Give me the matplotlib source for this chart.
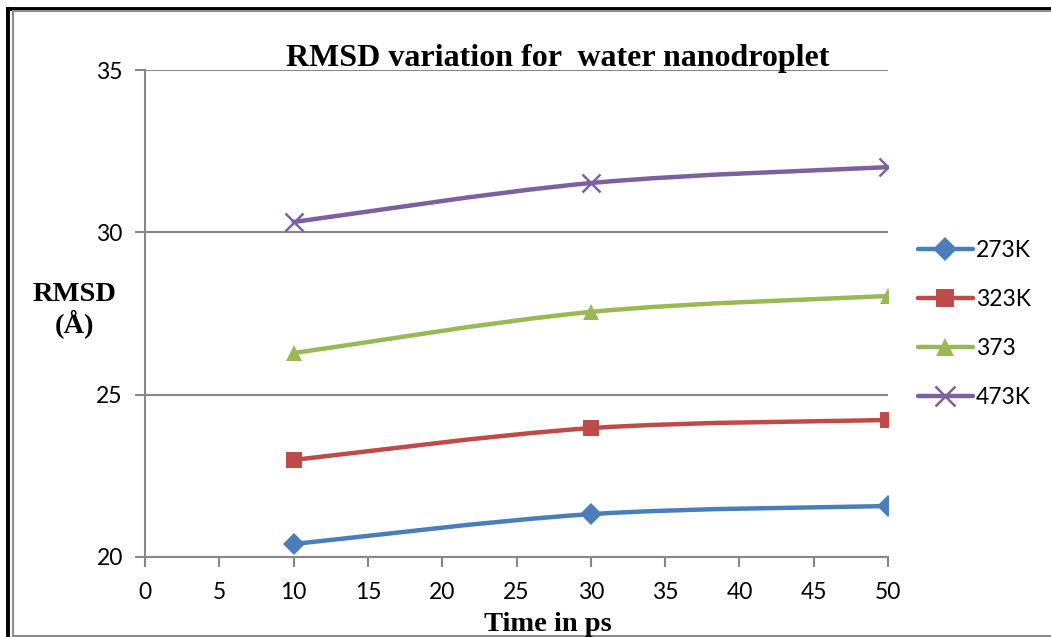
import numpy as np
import matplotlib
matplotlib.use('Agg')
import matplotlib.pyplot as plt
from matplotlib.path import Path
from matplotlib.patches import PathPatch
from matplotlib.lines import Line2D

# data
time_ps = [10, 30, 50]
rmsd_273 = [20.40, 21.32, 21.57]
rmsd_323 = [22.99, 23.97, 24.22]
rmsd_373 = [26.28, 27.55, 28.04]
rmsd_473 = [30.32, 31.52, 32.01]
labels = ['273K', '323K', '373', '473K']

series = [rmsd_273, rmsd_323, rmsd_373, rmsd_473]
colors = ['#4A7EBB', '#BE4B48', '#98B954', '#7D60A0']
markers = ['D', 's', '^', 'x']
msizes = [11, 12, 12, 13]


def smooth_path(x, y, t=1/6):
    """Excel-like smoothed line as cubic bezier through the points."""
    pts = list(zip(x, y))
    verts = [pts[0]]
    codes = [Path.MOVETO]
    n = len(pts)
    for i in range(n - 1):
        p0 = pts[i - 1] if i > 0 else pts[i]
        p1 = pts[i]
        p2 = pts[i + 1]
        p3 = pts[i + 2] if i + 2 < n else pts[i + 1]
        c1 = (p1[0] + (p2[0] - p0[0]) * t, p1[1] + (p2[1] - p0[1]) * t)
        c2 = (p2[0] - (p3[0] - p1[0]) * t, p2[1] - (p3[1] - p1[1]) * t)
        verts += [c1, c2, p2]
        codes += [Path.CURVE4] * 3
    return Path(verts, codes)


fig = plt.figure(figsize=(10.51, 6.37), dpi=100)
ax = fig.add_axes([0.138, 0.1256, 0.707, 0.7644])

for vals, c, m, ms, lab in zip(series, colors, markers, msizes, labels):
    patch = PathPatch(smooth_path(time_ps, vals), facecolor='none', edgecolor=c,
                      lw=3.2, capstyle='round', joinstyle='round', zorder=3)
    ax.add_patch(patch)
    mew = 1.8 if m == 'x' else 0
    ax.plot(time_ps, vals, linestyle='none', marker=m, ms=ms, color=c,
            mec=c, mew=mew, zorder=4)

ax.set_xlim(0, 50)
ax.set_ylim(20, 35)
ax.set_xticks(range(0, 51, 5))
ax.set_yticks([20, 25, 30, 35])
ax.grid(axis='y', color='#878787', lw=1.5)
ax.set_axisbelow(True)
for s in ['top', 'right']:
    ax.spines[s].set_visible(False)
for s in ['left', 'bottom']:
    ax.spines[s].set_color('#878787')
    ax.spines[s].set_linewidth(1.5)
ax.tick_params(axis='both', color='#878787', width=1.5, length=7,
               labelsize=16.5, pad=11)
ax.tick_params(axis='y', pad=9)
for lbl in ax.get_xticklabels() + ax.get_yticklabels():
    lbl.set_fontfamily('Lato')

fig.text(0.531, 0.908, 'RMSD variation for  water nanodroplet', ha='center',
         va='center', fontsize=23, fontweight='bold', family='Liberation Serif')
fig.text(0.071, 0.513, 'RMSD\n(Å)', ha='center', va='center', fontsize=20.5,
         fontweight='bold', family='Liberation Serif', linespacing=1.1)
fig.text(0.521, 0.02, 'Time in ps', ha='center', va='center', fontsize=20.5,
         fontweight='bold', family='Liberation Serif')

handles = [Line2D([], [], color=c, lw=3.2, marker=m, ms=ms + 1, mec=c,
                  mew=(1.8 if m == 'x' else 0), solid_capstyle='round')
           for c, m, ms in zip(colors, markers, msizes)]
fig.legend(handles, labels, loc='center left', bbox_to_anchor=(0.873, 0.491),
           frameon=False, prop={'family': 'Lato', 'size': 16.5},
           handlelength=2.4, handletextpad=0.15, labelspacing=1.22,
           borderaxespad=0, borderpad=0)

# outer frame (chart border, cropped)
fig.add_artist(Line2D([0.0076, 0.0076], [0, 0.986], color='black', lw=2.8,
                      transform=fig.transFigure))
fig.add_artist(Line2D([0.0076, 1], [0.986, 0.986], color='black', lw=2.8,
                      transform=fig.transFigure))
fig.add_artist(Line2D([0.0124, 0.0124], [0.0015, 0.983], color='#8c8c8c', lw=1.5,
                      transform=fig.transFigure))
fig.add_artist(Line2D([0.0124, 1], [0.983, 0.983], color='#8c8c8c', lw=1.5,
                      transform=fig.transFigure))
fig.add_artist(Line2D([0.0124, 1], [0.0015, 0.0015], color='#8c8c8c', lw=1.5,
                      transform=fig.transFigure))

fig.savefig('out.png', dpi=100, facecolor='white')
